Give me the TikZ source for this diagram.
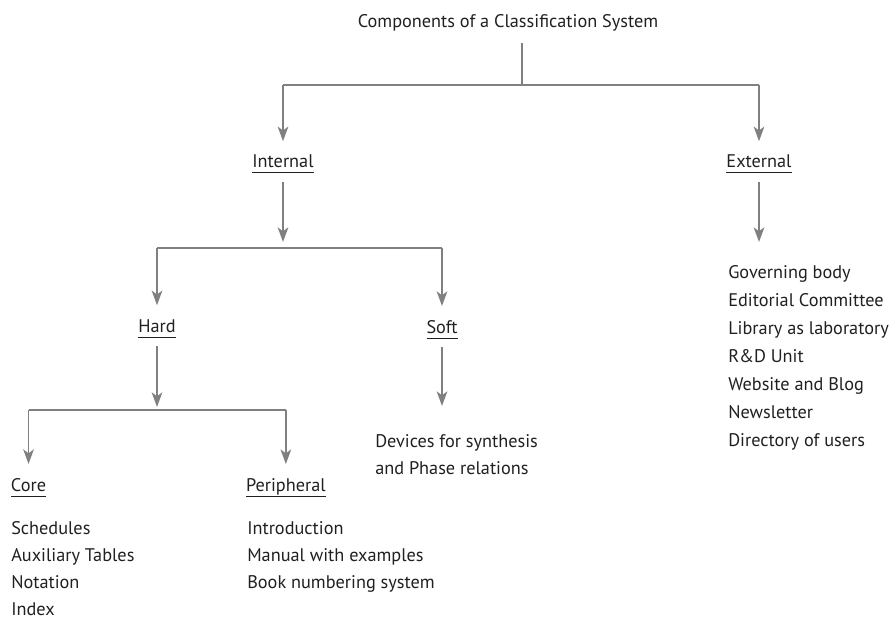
\documentclass[tikz,border=0pt]{standalone}
\usepackage{fontspec}
\setmainfont{PT Sans}
\usetikzlibrary{arrows.meta}
\definecolor{linegray}{RGB}{128,128,130}
\definecolor{ink}{RGB}{35,31,32}

\begin{document}
\begin{tikzpicture}[x=0.75pt,y=-0.75pt,
  every node/.style={font=\fontsize{13.7}{16}\selectfont,text=ink,inner sep=0pt},
  head/.style={anchor=base,outer ysep=10.5pt,outer xsep=0pt},
  item/.style={anchor=base west},
  line/.style={draw=linegray,line width=1.1pt},
  arr/.style={line,-{Stealth[length=11pt,width=8pt,inset=3pt]}}]
\useasboundingbox (0,0) rectangle (895,620);
% headings
\node[anchor=base] (title) at (508,28) {Components of a Classification System};
\node[head] (int) at (283,168) {Internal};
\node[head] (ext) at (759,168) {External};
\node[head] (hard) at (157,332) {Hard};
\node[head] (soft) at (442,333) {Soft};
\node[head,anchor=base west] (core) at (11,491) {Core};
\node[head,anchor=base west] (peri) at (246,491) {Peripheral};
\foreach \n in {int,ext,hard,soft,core,peri}
  \draw[ink,line width=0.75pt] ([yshift=-3.75pt]\n.base west) -- ([yshift=-3.75pt]\n.base east);
% bars and arrow ends
\coordinate (bar0) at (522,85);
\coordinate (bar1) at (0,248);
\coordinate (bar2) at (0,410);
\coordinate (softend) at (442,406);
\coordinate (extend) at (759,242);
% connectors
\draw[line] ([yshift=-11.25pt]bar0 |- title.base) -- (bar0);
\draw[line] (int.north |- bar0) -- (ext.north |- bar0);
\draw[arr] (int.north |- bar0) -- (int.north);
\draw[arr] (ext.north |- bar0) -- (ext.north);
\draw[arr] (int.south) -- ([yshift=4.5pt]int.south |- bar1);
\draw[line] (hard.north |- bar1) -- (soft.north |- bar1);
\draw[arr] (hard.north |- bar1) -- (hard.north);
\draw[arr] (soft.north |- bar1) -- (soft.north);
\draw[arr] (hard.south) -- ([yshift=2.25pt]hard.south |- bar2);
\draw[line] (core.north |- bar2) -- (peri.north |- bar2);
\draw[arr] (core.north |- bar2) -- (core.north);
\draw[arr] (peri.north |- bar2) -- (peri.north);
\draw[arr] (soft.south) -- (softend);
\draw[arr] (ext.south) -- (extend);
% lists
\foreach \t [count=\i] in {Schedules,Auxiliary Tables,Notation,Index}
  \node[item] (core\i) at (11,{534+27*(\i-1)}) {\t};
\foreach \t [count=\i] in {Introduction,Manual with examples,Book numbering system}
  \node[item] (peri\i) at (247,{534+27*(\i-1)}) {\t};
\foreach \t [count=\i] in {Devices for synthesis,and Phase relations}
  \node[item] (soft\i) at (375,{447+27.5*(\i-1)}) {\t};
\foreach \t [count=\i] in {Governing body,Editorial Committee,Library as laboratory,R\&D Unit,Website and Blog,Newsletter,Directory of users}
  \node[item] (ext\i) at (728,{278+28*(\i-1)}) {\t};
\end{tikzpicture}
\end{document}
